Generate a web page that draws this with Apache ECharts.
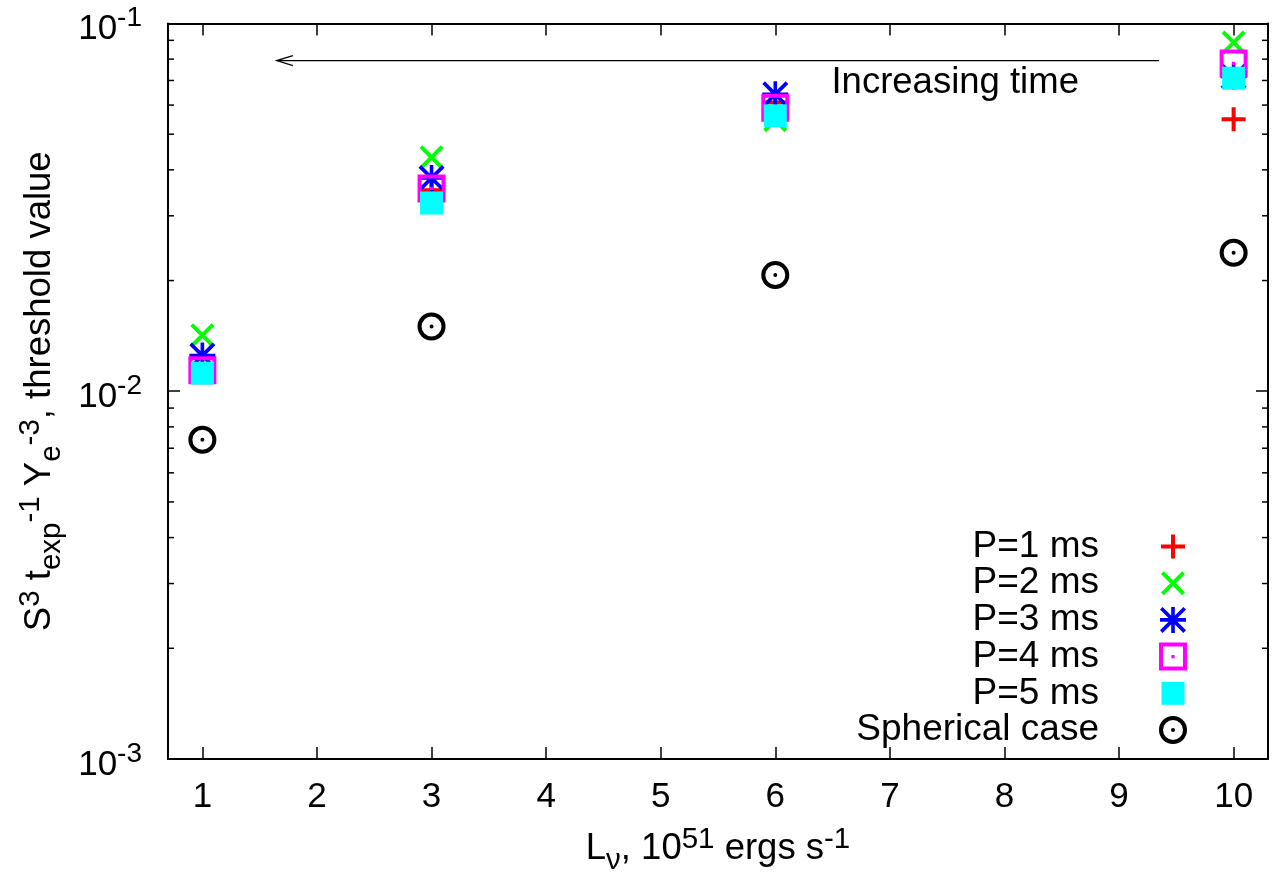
<!DOCTYPE html>
<html><head><meta charset="utf-8">
<script src="https://cdn.jsdelivr.net/npm/echarts@6/dist/echarts.min.js"></script>
<style>html,body{margin:0;padding:0;background:#fff}#c{width:1272px;height:881px}</style>
</head><body><div id="c"></div>
<script>
// ---- data ----
const luminosity = [1, 3, 6, 10];
const p1 = [0.0115, 0.0352, 0.0610, 0.0549];
const p2 = [0.0142, 0.0433, 0.0546, 0.0888];
const p3 = [0.0125, 0.0380, 0.0642, 0.0718];
const p4 = [0.0114, 0.0356, 0.0590, 0.0779];
const p5 = [0.0112, 0.0325, 0.0561, 0.0710];
const spherical = [0.00738, 0.0150, 0.0207, 0.0238];
const seriesNames = ['P=1 ms', 'P=2 ms', 'P=3 ms', 'P=4 ms', 'P=5 ms', 'Spherical case'];
const xTicks = [1, 2, 3, 4, 5, 6, 7, 8, 9, 10];
const yTicks = [0.001, 0.01, 0.1];
const yMinorTicks = [0.002, 0.003, 0.004, 0.005, 0.006, 0.007, 0.008, 0.009,
                     0.02, 0.03, 0.04, 0.05, 0.06, 0.07, 0.08, 0.09];
const arrowStart = [9.35, 0.0793];
const arrowEnd = [1.65, 0.0793];
const noteText = 'Increasing time';
const notePos = [6.49, 0.0688];

// ---- styling ----
const FONT = '"Liberation Sans", Arial, Helvetica, sans-serif';
const C = 'M0 0L0 0M28 28L28 28';
const symbols = [
  'path://' + C + 'M12 2H16V12H26V16H16V26H12V16H2V12H12Z',
  'path://' + C + 'M2 4.8L4.8 2L26 23.2L23.2 26ZM23.2 2L26 4.8L4.8 26L2 23.2Z',
  'path://' + C + 'M12.2 1H15.8V12.2H27V15.8H15.8V27H12.2V15.8H1V12.2H12.2ZM1 3.6L3.6 1L27 24.4L24.4 27ZM24.4 1L27 3.6L3.6 27L1 24.4Z',
  'path://M0 0H28V28H0ZM4 4V24H24V4ZM12.4 12.4H15.6V15.6H12.4Z',
  'path://' + C + 'M2.5 2.5H25.5V25.5H2.5Z',
  'path://M0 14A14 14 0 1 1 28 14A14 14 0 1 1 0 14ZM4 14A10 10 0 1 0 24 14A10 10 0 1 0 4 14ZM12 14A2 2 0 1 1 16 14A2 2 0 1 1 12 14Z'
];
const colors = ['#ff0000', '#00ff00', '#0000ff', '#ff00ff', '#00ffff', '#000000'];
const values = [p1, p2, p3, p4, p5, spherical];

const richName = {
  b: {fontSize: 36.5, fontFamily: FONT, color: '#000', lineHeight: 40, verticalAlign: 'middle'},
  sup: {fontSize: 29.5, fontFamily: FONT, color: '#000', lineHeight: 30, padding: [0, 0, 18, 0], verticalAlign: 'middle'},
  sub: {fontSize: 29.5, fontFamily: FONT, color: '#000', lineHeight: 30, padding: [24, 0, 0, 0], verticalAlign: 'middle'}
};
const richTick = {
  b: {fontSize: 35, fontFamily: FONT, color: '#000', lineHeight: 40, padding: [12, 0, 0, 0], verticalAlign: 'middle'},
  sup: {fontSize: 28, fontFamily: FONT, color: '#000', lineHeight: 30, padding: [0, 0, 10, 0], verticalAlign: 'middle'}
};

const chart = echarts.init(document.getElementById('c'), null, {renderer: 'canvas'});

const scatterSeries = seriesNames.map((name, i) => ({
  type: 'scatter',
  name: name,
  data: luminosity.map((x, j) => [x, values[i][j]]),
  symbol: symbols[i],
  symbolSize: 28,
  itemStyle: {color: colors[i], opacity: 1, borderWidth: 0},
  emphasis: {disabled: true},
  z: 3
}));

const minorTickSeries = {
  type: 'custom',
  coordinateSystem: 'cartesian2d',
  silent: true,
  z: 5,
  data: yMinorTicks.map(v => [1, v]),
  renderItem: function (params, api) {
    const y = api.coord([1, api.value(1)])[1];
    const cs = params.coordSys;
    return {
      type: 'group',
      children: [
        {type: 'line', shape: {x1: cs.x, y1: y, x2: cs.x + 6, y2: y}, style: {stroke: '#000', lineWidth: 1.5}},
        {type: 'line', shape: {x1: cs.x + cs.width, y1: y, x2: cs.x + cs.width - 6, y2: y}, style: {stroke: '#000', lineWidth: 1.5}}
      ]
    };
  }
};

const arrowSeries = {
  type: 'custom',
  coordinateSystem: 'cartesian2d',
  silent: true,
  z: 4,
  data: [[arrowStart[0], arrowStart[1], arrowEnd[0], arrowEnd[1], notePos[0], notePos[1]]],
  encode: {x: [0, 2, 4], y: [1, 3, 5]},
  renderItem: function (params, api) {
    const s = api.coord([api.value(0), api.value(1)]);
    const e = api.coord([api.value(2), api.value(3)]);
    const t = api.coord([api.value(4), api.value(5)]);
    return {
      type: 'group',
      children: [
        {type: 'line', shape: {x1: s[0], y1: s[1], x2: e[0], y2: e[1]}, style: {stroke: '#000', lineWidth: 1.3}},
        {type: 'polyline', shape: {points: [[e[0] + 16, e[1] - 5], [e[0], e[1]], [e[0] + 16, e[1] + 5]]}, style: {stroke: '#000', lineWidth: 1.3, fill: null}},
        {type: 'text', x: t[0], y: t[1], style: {text: noteText, fontSize: 36.5, fontFamily: FONT, fill: '#000', align: 'left', verticalAlign: 'middle'}}
      ]
    };
  }
};

const axisLineStyle = {color: '#000', width: 2};
const tickStyle = {color: '#000', width: 1.5};

chart.setOption({
  animation: false,
  backgroundColor: '#fff',
  grid: {left: 168, right: 4, top: 23, bottom: 121},
  legend: {
    orient: 'vertical',
    right: 85,
    top: 528,
    padding: 0,
    align: 'right',
    itemWidth: 28,
    itemHeight: 28,
    itemGap: -0.3,
    selectedMode: false,
    itemStyle: {borderWidth: 0},
    data: seriesNames.map((n, i) => ({name: n, icon: symbols[i]})),
    formatter: n => '{t|' + n + '}',
    textStyle: {
      fontSize: 37, fontFamily: FONT, color: '#000', lineHeight: 28,
      rich: {t: {fontSize: 37, fontFamily: FONT, color: '#000', lineHeight: 28, padding: [0, 55, 0, 0]}}
    }
  },
  xAxis: [{
    type: 'value', min: 0.7, max: 10.3, position: 'bottom',
    axisLine: {show: true, lineStyle: axisLineStyle},
    axisTick: {show: true, inside: true, length: 12, customValues: xTicks, lineStyle: tickStyle},
    axisLabel: {customValues: xTicks, fontSize: 35, fontFamily: FONT, color: '#000', margin: 21},
    splitLine: {show: false},
    name: '{b|L}{sub|ν}{b|, 10}{sup|51}{b| ergs s}{sup|-1}',
    nameLocation: 'middle', nameGap: 70,
    nameTextStyle: {rich: richName}
  }, {
    type: 'value', min: 0.7, max: 10.3, position: 'top',
    axisLine: {show: true, lineStyle: axisLineStyle},
    axisTick: {show: true, inside: true, length: 12, customValues: xTicks, lineStyle: tickStyle},
    axisLabel: {show: false},
    splitLine: {show: false}
  }],
  yAxis: [{
    type: 'log', logBase: 10, min: 0.001, max: 0.1, position: 'left',
    axisLine: {show: true, lineStyle: axisLineStyle},
    axisTick: {show: true, inside: true, length: 12, customValues: yTicks, lineStyle: tickStyle},
    axisLabel: {
      customValues: yTicks, margin: 26,
      formatter: v => '{b|10}{sup|' + Math.round(Math.log10(v)) + '}',
      rich: richTick
    },
    splitLine: {show: false},
    minorTick: {show: false},
    name: '{b|S}{sup|3}{b| t}{sub|exp}{sup|-1}{b| Y}{sub|e}{sup|-3}{b|, threshold value}',
    nameLocation: 'middle', nameRotate: 90, nameGap: 108,
    nameTextStyle: {rich: richName}
  }, {
    type: 'log', logBase: 10, min: 0.001, max: 0.1, position: 'right',
    axisLine: {show: true, lineStyle: axisLineStyle},
    axisTick: {show: true, inside: true, length: 12, customValues: yTicks, lineStyle: tickStyle},
    axisLabel: {show: false},
    splitLine: {show: false}
  }],
  series: scatterSeries.concat([minorTickSeries, arrowSeries])
});
</script>
</body></html>
